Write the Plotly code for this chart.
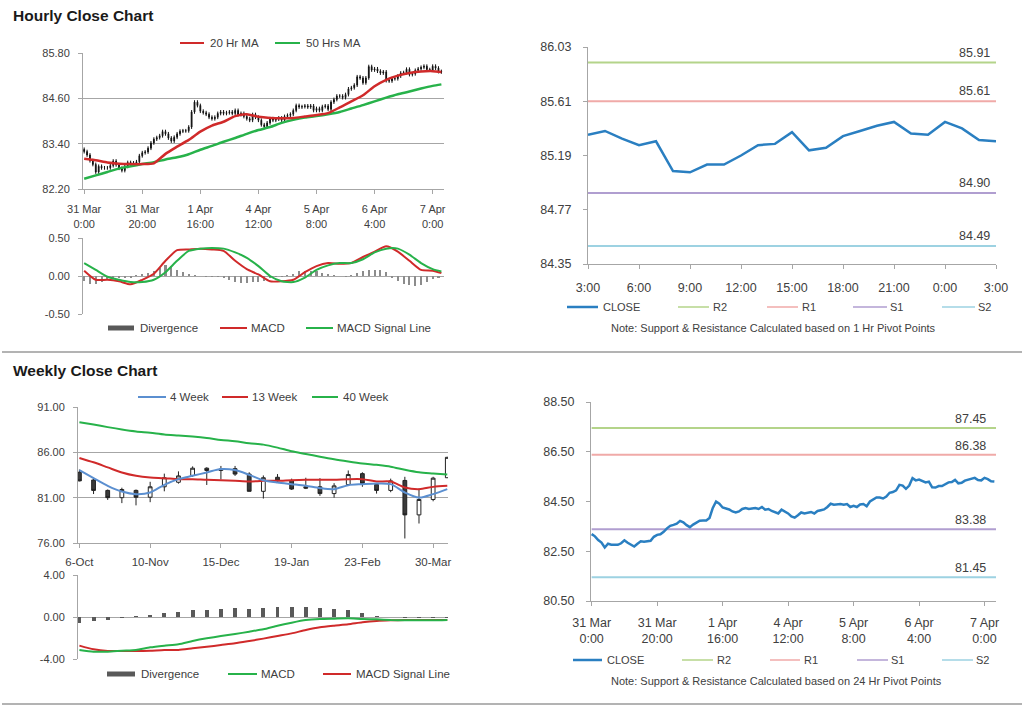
import plotly.graph_objects as go

W, H = 1024, 706
FONT = "Liberation Sans, Arial, sans-serif"
TXT = "#404040"
GRID = "#a6a6a6"

# ---------------- data ----------------
# hourly bars (index 0 = 31 Mar 0:00, trading hours only)
hourly_tick_bars = [0, 20, 40, 60, 80, 100, 120]
hourly_tick_text = ["31 Mar<br>0:00", "31 Mar<br>20:00", "1 Apr<br>16:00", "4 Apr<br>12:00",
                    "5 Apr<br>8:00", "6 Apr<br>4:00", "7 Apr<br>0:00"]
hourly_first_open = 83.25
hourly_close = [
    83.19, 83.10, 82.95, 82.85, 82.65, 82.80, 82.76, 82.76, 82.76, 82.82,
    82.94, 82.84, 82.75, 82.69, 82.80, 82.90, 82.88, 82.89, 82.92, 83.08,
    83.16, 83.18, 83.28, 83.42, 83.52, 83.56, 83.61, 83.72, 83.66, 83.55,
    83.47, 83.57, 83.66, 83.73, 83.74, 83.74, 83.84, 84.24, 84.50, 84.41,
    84.26, 84.22, 84.18, 84.10, 84.06, 84.10, 84.20, 84.24, 84.20, 84.22,
    84.24, 84.20, 84.28, 84.17, 84.20, 84.12, 84.06, 84.02, 84.17, 84.10,
    84.02, 83.90, 83.85, 83.95, 84.06, 84.02, 84.05, 84.08, 84.02, 84.12,
    84.15, 84.18, 84.28, 84.41, 84.37, 84.38, 84.40, 84.37, 84.40, 84.28,
    84.33, 84.28, 84.38, 84.40, 84.31, 84.50, 84.57, 84.66, 84.66, 84.62,
    84.70, 84.85, 84.88, 84.95, 85.17, 85.14, 85.01, 85.14, 85.44, 85.35,
    85.38, 85.32, 85.27, 85.30, 85.07, 85.06, 85.12, 85.12, 85.19, 85.27,
    85.28, 85.37, 85.23, 85.25, 85.34, 85.38, 85.42, 85.45, 85.36, 85.35,
    85.45, 85.40, 85.31, 85.30]
HOURLY_WICK = 0.05

# moving averages / MACD sampled every 4 hourly bars
hourly_sample_bars = [0, 4, 8, 12, 16, 20, 24, 28, 32, 36, 40, 44, 48, 52, 56, 60,
                      64, 68, 72, 76, 80, 84, 88, 92, 96, 100, 104, 108, 112, 116, 120, 123]
ma20 = [83.00, 82.96, 82.90, 82.87, 82.86, 82.86, 82.88, 83.13, 83.32, 83.50, 83.72, 83.88,
        83.98, 84.13, 84.18, 84.11, 84.08, 84.07, 84.08, 84.12, 84.16, 84.21, 84.36, 84.52,
        84.68, 84.92, 85.09, 85.20, 85.27, 85.31, 85.32, 85.30]
ma50 = [82.47, 82.56, 82.65, 82.74, 82.80, 82.86, 82.91, 82.98, 83.04, 83.12, 83.24, 83.34,
        83.45, 83.55, 83.66, 83.76, 83.84, 83.95, 84.03, 84.09, 84.13, 84.18, 84.24, 84.33,
        84.42, 84.52, 84.62, 84.71, 84.78, 84.86, 84.93, 84.97]
hourly_macd = [0.07, -0.05, -0.05, -0.07, -0.11, -0.05, 0.03, 0.20, 0.34, 0.35, 0.36, 0.35,
               0.33, 0.20, 0.09, 0.02, -0.07, -0.07, -0.05, 0.05, 0.13, 0.17, 0.16, 0.17,
               0.25, 0.32, 0.39, 0.32, 0.20, 0.08, 0.07, 0.04]
hourly_signal = [0.17, 0.08, -0.01, -0.05, -0.08, -0.08, -0.05, 0.05, 0.20, 0.33, 0.36, 0.37,
                 0.36, 0.31, 0.24, 0.13, 0.00, -0.07, -0.08, -0.02, 0.08, 0.14, 0.17, 0.17,
                 0.22, 0.31, 0.36, 0.36, 0.28, 0.17, 0.09, 0.06]
# divergence every 2 hourly bars
hourly_div_bars = list(range(0, 124, 2))
hourly_div = [-0.07, -0.10, -0.11, -0.08, -0.05, -0.04, -0.03, -0.03, -0.02, 0.01,
              0.02, 0.04, 0.06, 0.10, 0.15, 0.13, 0.08, 0.05, 0.02, 0.01,
              0.00, -0.01, -0.01, -0.01, -0.02, -0.05, -0.08, -0.09, -0.09, -0.08,
              -0.08, -0.06, -0.03, -0.01, -0.01, 0.01, 0.03, 0.06, 0.07, 0.07,
              0.06, 0.04, 0.02, 0.01, 0.00, -0.01, 0.01, 0.04, 0.07, 0.08,
              0.08, 0.08, 0.05, -0.02, -0.06, -0.10, -0.12, -0.13, -0.12, -0.08,
              -0.04, -0.02]

# last 25 hours (top right)
last25_start = 99
last25_tick_text = ["3:00", "6:00", "9:00", "12:00", "15:00", "18:00", "21:00", "0:00", "3:00"]
pivot_names = ["R2", "R1", "S1", "S2"]
pivot_colors = ["#b4d48a", "#f0aaa8", "#b09ed0", "#9dd2e2"]
pivot_1h = [85.91, 85.61, 84.90, 84.49]
pivot_24h = [87.45, 86.38, 83.38, 81.45]

# weekly candles
weekly_tick_pos = [0, 5, 10, 15, 20, 25]
weekly_tick_text = ["6-Oct", "10-Nov", "15-Dec", "19-Jan", "23-Feb", "30-Mar"]
weekly_open = [83.80, 82.95, 81.80, 81.00, 81.80, 81.05, 82.20, 82.70, 83.45, 84.25, 84.00, 84.20,
               83.60, 81.70, 83.25, 82.90, 82.20, 82.20, 81.45, 82.45, 83.65, 82.45, 81.80, 82.90,
               79.10, 80.80, 83.20]
weekly_high = [84.10, 83.10, 81.90, 82.10, 81.90, 82.75, 83.65, 83.90, 84.45, 84.35, 84.50, 84.50,
               83.80, 83.45, 83.60, 83.10, 83.20, 83.15, 82.60, 84.00, 83.80, 82.60, 83.10, 83.30,
               82.00, 83.30, 85.50]
weekly_low = [82.80, 81.40, 80.75, 80.40, 80.15, 80.50, 81.70, 82.55, 83.30, 82.40, 83.00, 83.40,
              81.70, 80.90, 82.70, 81.85, 81.95, 81.20, 81.00, 82.30, 82.20, 81.45, 81.60, 76.50,
              78.15, 80.60, 83.20]
weekly_close = [82.85, 81.80, 81.00, 81.90, 81.05, 82.20, 83.20, 83.40, 84.25, 84.00, 84.15, 83.60,
                81.70, 83.20, 82.85, 81.95, 82.05, 81.45, 82.30, 83.55, 82.55, 81.80, 82.85, 79.10,
                80.80, 83.15, 85.45]
wk4 = [84.04, 83.16, 82.31, 81.68, 81.39, 81.57, 82.42, 83.04, 83.41, 83.78, 84.16, 84.04, 83.52,
       82.93, 82.67, 82.49, 82.31, 82.05, 81.94, 82.38, 82.49, 82.57, 82.49, 81.57, 81.01, 81.39, 81.94]
wk13 = [85.38, 84.90, 84.34, 83.78, 83.41, 83.22, 83.15, 83.04, 83.04, 82.97, 82.93, 82.86, 82.78,
        82.86, 82.86, 82.93, 82.97, 82.97, 82.97, 83.04, 83.04, 82.78, 82.78, 82.12, 81.94, 82.19, 82.31]
wk40 = [89.33, 89.07, 88.78, 88.52, 88.30, 88.15, 87.96, 87.85, 87.74, 87.59, 87.37, 87.22, 87.00,
        86.85, 86.52, 86.12, 85.82, 85.52, 85.24, 85.00, 84.78, 84.62, 84.42, 84.08, 83.80, 83.67, 83.55]
wk_div = [-0.60, -0.38, -0.29, -0.12, 0.06, 0.19, 0.35, 0.44, 0.67, 0.67, 0.76, 0.89, 0.76, 0.89,
          0.98, 0.98, 0.98, 0.89, 0.76, 0.67, 0.35, 0.13, -0.03, -0.10, -0.10, -0.10, -0.10]
wk_macd = [-3.14, -3.30, -3.30, -3.21, -3.14, -2.89, -2.73, -2.60, -2.29, -2.03, -1.81, -1.62, -1.40,
           -1.17, -0.83, -0.54, -0.29, -0.19, -0.16, -0.13, -0.19, -0.22, -0.29, -0.32, -0.32, -0.32, -0.29]
wk_signal = [-2.73, -3.08, -3.24, -3.24, -3.24, -3.21, -3.14, -3.14, -2.98, -2.83, -2.67, -2.51, -2.29,
             -2.06, -1.81, -1.56, -1.24, -0.98, -0.83, -0.70, -0.51, -0.38, -0.32, -0.29, -0.29, -0.29, -0.29]

# ---------------- colours ----------------
RED = "#d02a2a"
GREEN = "#27b24a"
BLUE = "#2a7fc1"
LBLUE = "#5b8fd0"
DIVG = "#8c8c8c"
DIVW = "#595959"

# ---------------- helpers ----------------
def dom_x(a, b):
    return [a / W, b / W]

def dom_y(top, bottom):
    return [1 - bottom / H, 1 - top / H]

def tfont(size=11):
    return dict(family=FONT, size=size, color=TXT)

def yaxis(domain, anchor, rng, tickvals, ticktext, grid=True, size=11, standoff=6):
    return dict(domain=domain, anchor=anchor, range=rng, tickvals=tickvals, ticktext=ticktext,
                showgrid=grid, gridcolor=GRID, gridwidth=1, showline=True, linecolor=GRID,
                linewidth=1, ticks="outside", ticklen=4, tickcolor=GRID, zeroline=False,
                tickfont=tfont(size), ticklabelstandoff=standoff, fixedrange=True,
                automargin=False)

def xaxis(domain, anchor, rng, tickvals=None, ticktext=None, labels=True, size=11, standoff=6,
          line=True):
    d = dict(domain=domain, anchor=anchor, range=rng, showgrid=False, zeroline=False,
             showline=line, linecolor=GRID, linewidth=1, fixedrange=True, automargin=False,
             rangeslider=dict(visible=False))
    if labels:
        d.update(tickvals=tickvals, ticktext=ticktext, ticks="outside", ticklen=4,
                 tickcolor=GRID, tickfont=tfont(size), ticklabelstandoff=standoff,
                 tickangle=0)
    else:
        d.update(showticklabels=False, ticks="")
    return d

fig = go.Figure()
shapes = []
annotations = []

def legend_line(x0, x1, y, color, width, text, tx, size=11.5):
    shapes.append(dict(type="line", xref="paper", yref="paper", x0=x0 / W, x1=x1 / W,
                       y0=1 - y / H, y1=1 - y / H, line=dict(color=color, width=width)))
    annotations.append(dict(xref="paper", yref="paper", x=tx / W, y=1 - y / H, text=text,
                            showarrow=False, xanchor="left", yanchor="middle", font=tfont(size)))

def legend_box(x0, x1, y, color, text, tx, size=11.5):
    shapes.append(dict(type="rect", xref="paper", yref="paper", x0=x0 / W, x1=x1 / W,
                       y0=1 - (y + 2.5) / H, y1=1 - (y - 2.5) / H, line=dict(width=0),
                       fillcolor=color))
    annotations.append(dict(xref="paper", yref="paper", x=tx / W, y=1 - y / H, text=text,
                            showarrow=False, xanchor="left", yanchor="middle", font=tfont(size)))

def note(xc, y, text, size=11):
    annotations.append(dict(xref="paper", yref="paper", x=xc / W, y=1 - y / H, text=text,
                            showarrow=False, xanchor="center", yanchor="middle", font=tfont(size)))

# ---------------- panel 1 : hourly candles ----------------
bars = list(range(len(hourly_close)))
h_open = [hourly_first_open] + hourly_close[:-1]
h_high = [max(o, c) + HOURLY_WICK for o, c in zip(h_open, hourly_close)]
h_low = [min(o, c) - HOURLY_WICK for o, c in zip(h_open, hourly_close)]
fig.add_trace(go.Candlestick(x=bars, open=h_open, high=h_high, low=h_low, close=hourly_close,
                             xaxis="x", yaxis="y", whiskerwidth=0,
                             increasing=dict(line=dict(color="#111111", width=1), fillcolor="#111111"),
                             decreasing=dict(line=dict(color="#111111", width=1), fillcolor="#111111"),
                             hoverinfo="skip"))
fig.add_trace(go.Scatter(x=hourly_sample_bars, y=ma50, mode="lines", xaxis="x", yaxis="y",
                         line=dict(color=GREEN, width=2.5, shape="spline", smoothing=0.6)))
fig.add_trace(go.Scatter(x=hourly_sample_bars, y=ma20, mode="lines", xaxis="x", yaxis="y",
                         line=dict(color=RED, width=2.5, shape="spline", smoothing=0.6)))

# ---------------- panel 2 : hourly MACD ----------------
fig.add_trace(go.Bar(x=hourly_div_bars, y=hourly_div, xaxis="x2", yaxis="y2", width=0.7,
                     marker=dict(color=DIVG, line=dict(width=0))))
fig.add_trace(go.Scatter(x=hourly_sample_bars, y=hourly_macd, mode="lines", xaxis="x2", yaxis="y2",
                         line=dict(color=RED, width=2, shape="spline", smoothing=0.6)))
fig.add_trace(go.Scatter(x=hourly_sample_bars, y=hourly_signal, mode="lines", xaxis="x2", yaxis="y2",
                         line=dict(color=GREEN, width=2, shape="spline", smoothing=0.6)))

# ---------------- panel 3 : last 25 hours ----------------
last_bars = bars[last25_start:]
last_close = hourly_close[last25_start:]
for name, col, val in zip(pivot_names, pivot_colors, pivot_1h):
    fig.add_trace(go.Scatter(x=[last_bars[0], last_bars[-1]], y=[val, val], mode="lines",
                             xaxis="x3", yaxis="y3", line=dict(color=col, width=2)))
    annotations.append(dict(xref="x3", yref="y3", x=last_bars[-1], y=val, text=f"{val:.2f}",
                            showarrow=False, xanchor="right", yanchor="middle", xshift=-4,
                            yshift=10, font=tfont(12.5)))
fig.add_trace(go.Scatter(x=last_bars, y=last_close, mode="lines", xaxis="x3", yaxis="y3",
                         line=dict(color=BLUE, width=2.5)))

# ---------------- panel 4 : weekly candles ----------------
weeks = list(range(len(weekly_close)))
fig.add_trace(go.Scatter(x=weeks, y=wk40, mode="lines", xaxis="x4", yaxis="y4",
                         line=dict(color=GREEN, width=2, shape="spline", smoothing=0.8)))
fig.add_trace(go.Candlestick(x=weeks, open=weekly_open, high=weekly_high, low=weekly_low,
                             close=weekly_close, xaxis="x4", yaxis="y4", whiskerwidth=0,
                             increasing=dict(line=dict(color="#222222", width=1), fillcolor="#ffffff"),
                             decreasing=dict(line=dict(color="#222222", width=1), fillcolor="#3a3a3a"),
                             hoverinfo="skip"))
fig.add_trace(go.Scatter(x=weeks, y=wk13, mode="lines", xaxis="x4", yaxis="y4",
                         line=dict(color=RED, width=2, shape="spline", smoothing=0.8)))
fig.add_trace(go.Scatter(x=weeks, y=wk4, mode="lines", xaxis="x4", yaxis="y4",
                         line=dict(color=LBLUE, width=2, shape="spline", smoothing=0.8)))

# ---------------- panel 5 : weekly MACD ----------------
fig.add_trace(go.Bar(x=weeks, y=wk_div, xaxis="x5", yaxis="y5", width=0.28,
                     marker=dict(color=DIVW, line=dict(width=0))))
fig.add_trace(go.Scatter(x=weeks, y=wk_signal, mode="lines", xaxis="x5", yaxis="y5",
                         line=dict(color=RED, width=2, shape="spline", smoothing=0.6)))
fig.add_trace(go.Scatter(x=weeks, y=wk_macd, mode="lines", xaxis="x5", yaxis="y5",
                         line=dict(color=GREEN, width=2, shape="spline", smoothing=0.6)))

# ---------------- panel 6 : hourly close with 24h pivots ----------------
for name, col, val in zip(pivot_names, pivot_colors, pivot_24h):
    fig.add_trace(go.Scatter(x=[bars[0], bars[-1] + 0.5], y=[val, val], mode="lines",
                             xaxis="x6", yaxis="y6", line=dict(color=col, width=2)))
    annotations.append(dict(xref="x6", yref="y6", x=bars[-1], y=val, text=f"{val:.2f}",
                            showarrow=False, xanchor="right", yanchor="middle", xshift=-6,
                            yshift=9, font=tfont(12.5)))
fig.add_trace(go.Scatter(x=bars, y=hourly_close, mode="lines", xaxis="x6", yaxis="y6",
                         line=dict(color=BLUE, width=2.5)))

# ---------------- axes ----------------
layout_axes = dict(
    xaxis=xaxis(dom_x(83, 444), "y", [-0.4, 123.9], hourly_tick_bars, hourly_tick_text, standoff=6),
    yaxis=yaxis(dom_y(53, 189), "x", [82.2, 85.8], [82.2, 83.4, 84.6, 85.8],
                ["82.20", "83.40", "84.60", "85.80"]),
    xaxis2=xaxis(dom_x(83, 444), "y2", [-0.4, 123.9], labels=False, line=False),
    yaxis2=yaxis(dom_y(238, 314), "x2", [-0.5, 0.5], [-0.5, 0, 0.5], ["-0.50", "0.00", "0.50"]),
    xaxis3=xaxis(dom_x(588, 996), "y3", [last_bars[0], last_bars[-1]],
                 list(range(last_bars[0], last_bars[-1] + 1, 3)), last25_tick_text,
                 size=12.5, standoff=8),
    yaxis3=yaxis(dom_y(47, 264), "x3", [84.35, 86.03], [84.35, 84.77, 85.19, 85.61, 86.03],
                 ["84.35", "84.77", "85.19", "85.61", "86.03"], grid=False, size=12.5, standoff=9),
    xaxis4=xaxis(dom_x(78, 448), "y4", [-0.1, 26.05], weekly_tick_pos, weekly_tick_text,
                 size=11.5, standoff=4),
    yaxis4=yaxis(dom_y(407, 543), "x4", [76, 91], [76, 81, 86, 91],
                 ["76.00", "81.00", "86.00", "91.00"]),
    xaxis5=xaxis(dom_x(78, 448), "y5", [-0.1, 26.05], labels=False, line=False),
    yaxis5=yaxis(dom_y(575, 659), "x5", [-4, 4], [-4, 0, 4], ["-4.00", "0.00", "4.00"]),
    xaxis6=xaxis(dom_x(591, 996), "y6", [-0.2, 123.5], hourly_tick_bars, hourly_tick_text,
                 size=12.5, standoff=6),
    yaxis6=yaxis(dom_y(402, 601), "x6", [80.5, 88.5], [80.5, 82.5, 84.5, 86.5, 88.5],
                 ["80.50", "82.50", "84.50", "86.50", "88.50"], grid=False, size=12.5, standoff=9),
)

# ---------------- legends, titles, separators ----------------
legend_line(180, 204, 43, RED, 2, "20 Hr MA", 208)
legend_line(275, 300, 43, GREEN, 2, "50 Hrs MA", 304)

legend_box(108, 134, 328, DIVW, "Divergence", 138)
legend_line(220, 247, 328, RED, 2, "MACD", 249)
legend_line(306, 333, 328, GREEN, 2, "MACD Signal Line", 335)

legend_line(567, 598, 307, BLUE, 2.5, "CLOSE", 601, size=11)
for (x0, x1, tx), name, col in zip([(678, 709, 711), (767, 798, 800), (853, 887, 888), (942, 975, 976)],
                                   pivot_names, pivot_colors):
    legend_line(x0, x1, 307, col, 1.5, name, tx, size=11)
note(773, 328, "Note: Support &amp; Resistance Calculated based on 1 Hr Pivot Points")

legend_line(138, 166, 397, LBLUE, 2, "4 Week", 168)
legend_line(222, 248, 397, RED, 2, "13 Week", 250)
legend_line(312, 338, 397, GREEN, 2, "40 Week", 341)

legend_box(107, 135, 674, DIVW, "Divergence", 139)
legend_line(228, 257, 674, GREEN, 2, "MACD", 259)
legend_line(323, 351, 674, RED, 2, "MACD Signal Line", 354)

legend_line(573, 602, 660, BLUE, 2.5, "CLOSE", 605, size=11)
for (x0, x1, tx), name, col in zip([(682, 713, 715), (770, 800, 802), (857, 888, 889), (942, 973, 974)],
                                   pivot_names, pivot_colors):
    legend_line(x0, x1, 660, col, 1.5, name, tx, size=11)
note(776, 681, "Note: Support &amp; Resistance Calculated based on 24 Hr Pivot Points")

for title, y in [("Hourly Close Chart", 16), ("Weekly Close Chart", 370)]:
    annotations.append(dict(xref="paper", yref="paper", x=11 / W, y=1 - y / H, text=f"<b>{title}</b>",
                            showarrow=False, xanchor="left", yanchor="middle",
                            font=dict(family=FONT, size=15.5, color="#1a1a1a")))

for y in [352, 704]:
    shapes.append(dict(type="line", xref="paper", yref="paper", x0=2 / W, x1=1022 / W,
                       y0=1 - y / H, y1=1 - y / H, line=dict(color="#9a9a9a", width=1.5)))

fig.update_layout(
    width=W, height=H, margin=dict(l=0, r=0, t=0, b=0, pad=0, autoexpand=False),
    paper_bgcolor="white", plot_bgcolor="white",
    showlegend=False, boxgap=0.62, bargap=0,
    shapes=shapes, annotations=annotations,
    font=dict(family=FONT, color=TXT),
    **layout_axes,
)

fig.write_html("out.html", config={"displayModeBar": False, "staticPlot": True},
               post_script="document.body.style.margin='0';document.body.style.overflow='hidden';")
